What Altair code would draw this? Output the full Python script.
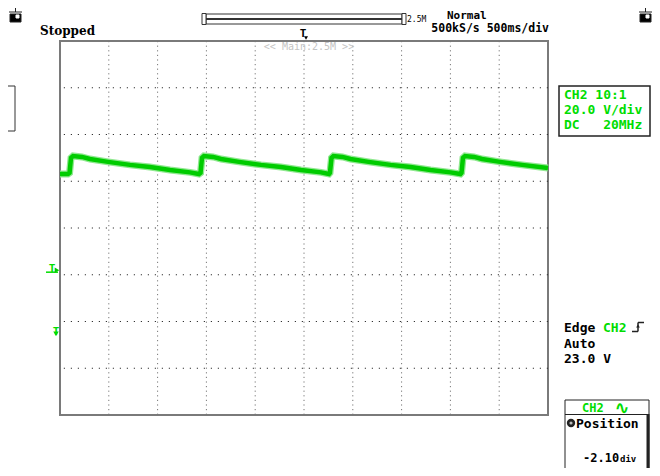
import altair as alt
import pandas as pd

# ---- data (time in s, voltage in V) ----
t_vals = [-2.500, -2.418, -2.402, -2.387, -2.366, -2.275, -2.193, -2.008, -1.783, -1.578, -1.373, -1.168, -1.076,
          -1.060, -1.045, -1.025, -0.932, -0.850, -0.666, -0.441, -0.236, -0.031, 0.174, 0.256,
          0.266, 0.282, 0.302, 0.394, 0.476, 0.661, 0.886, 1.091, 1.296, 1.501, 1.603,
          1.614, 1.629, 1.650, 1.742, 1.824, 2.008, 2.234, 2.500]
v_vals = [65.0, 65.0, 65.5, 71.9, 72.7, 72.3, 71.4, 70.2, 68.9, 68.0, 66.7, 65.7, 65.0,
          65.5, 71.9, 72.7, 72.3, 71.4, 70.2, 68.9, 68.0, 66.7, 65.7, 65.0,
          65.5, 71.9, 72.7, 72.3, 71.4, 70.2, 68.9, 68.0, 66.7, 65.7, 65.0,
          65.5, 71.9, 72.7, 72.3, 71.4, 70.2, 68.9, 67.6]
grid_t = [-2.0, -1.5, -1.0, -0.5, 0.0, 0.5, 1.0, 1.5, 2.0]
grid_v = [101.9, 81.9, 61.9, 41.9, 21.9, 1.9, -18.1]
t_domain = [-2.5, 2.5]
v_domain = [-38.1, 121.9]
trig_level = [23.0]
ground_level = [0.0]
trig_time = [0.0]

GREEN = "#00cc00"
TGREEN = "#00dd00"
MONO = "DejaVu Sans Mono"
OX, OY = 60, 41
NB = "\u00a0"

xs = alt.Scale(domain=t_domain, nice=False, zero=False)
ys = alt.Scale(domain=v_domain, nice=False, zero=False)
X = alt.X("t:Q", scale=xs, axis=None)
Y = alt.Y("v:Q", scale=ys, axis=None)

one = pd.DataFrame({"k": [0]})


def label(text, px, py, size=13, color="black", font=MONO, weight="bold", align="left", baseline="alphabetic"):
    return alt.Chart(one).mark_text(text=text, fontSize=size, color=color, font=font, fontWeight=weight,
                                    align=align, baseline=baseline).encode(
        x=alt.value(px - OX), y=alt.value(py - OY))


def box(x1, y1, x2, y2, stroke="#222", fill="white", sw=1):
    return alt.Chart(one).mark_rect(fill=fill, stroke=stroke, strokeWidth=sw).encode(
        x=alt.value(x1 - OX), x2=alt.value(x2 - OX), y=alt.value(y1 - OY), y2=alt.value(y2 - OY))


def line(x1, y1, x2, y2, color="#222", sw=1):
    return alt.Chart(one).mark_rule(color=color, strokeWidth=sw).encode(
        x=alt.value(x1 - OX), x2=alt.value(x2 - OX), y=alt.value(y1 - OY), y2=alt.value(y2 - OY))


trace = pd.DataFrame({"t": t_vals, "v": v_vals})
halo = alt.Chart(trace).mark_line(color="#90e890", strokeWidth=7).encode(X, Y)
core = alt.Chart(trace).mark_line(color=GREEN, strokeWidth=4.5).encode(X, Y)

vgrid = alt.Chart(pd.DataFrame({"t": grid_t})).mark_rule(
    color="#777", strokeWidth=1, strokeDash=[1.2, 3.4]).encode(x=X)
hgrid = alt.Chart(pd.DataFrame({"v": grid_v})).mark_rule(
    color="#333", strokeWidth=1, strokeDash=[1.2, 5.8]).encode(y=Y)

# trigger level marker (left)
tl = pd.DataFrame({"v": trig_level})
tl_text = alt.Chart(tl).mark_text(text="T", font=MONO, fontSize=11, fontWeight="bold", color=TGREEN,
                                  align="center", baseline="alphabetic").encode(x=alt.value(52 - OX), y=Y)
tl_rule = alt.Chart(tl).mark_rule(color=TGREEN, strokeWidth=1.5).encode(
    x=alt.value(46 - OX), x2=alt.value(58 - OX), y=Y)
tl_tri = alt.Chart(tl).mark_point(shape="triangle-right", filled=True, size=28, color=GREEN, opacity=1,
                                  yOffset=-2).encode(x=alt.value(-3), y=Y)

# ground marker (left)
gl = pd.DataFrame({"v": ground_level})
gl_text = alt.Chart(gl).mark_text(text="T", font=MONO, fontSize=11, fontWeight="bold", color=TGREEN,
                                  align="center", baseline="top").encode(x=alt.value(56 - OX), y=Y)
gl_tri = alt.Chart(gl).mark_point(shape="triangle-down", filled=True, size=30, color=TGREEN, opacity=1,
                                  yOffset=8).encode(x=alt.value(56 - OX), y=Y)

# trigger position marker (top)
tt = pd.DataFrame({"t": trig_time})
tt_text = alt.Chart(tt).mark_text(text="T", font=MONO, fontSize=11, fontWeight="bold", color="black",
                                  align="center", baseline="alphabetic", dx=-1).encode(x=X, y=alt.value(37 - OY))
tt_tri = alt.Chart(tt).mark_point(shape="triangle-down", filled=True, size=16, color="black", opacity=1,
                                  xOffset=2).encode(x=X, y=alt.value(38 - OY))

layers = [
    vgrid, hgrid, halo, core,
    tl_rule, tl_text, tl_tri, gl_text, gl_tri, tt_text, tt_tri,
    # top icons
    line(15.5, 8, 15.5, 12), line(9, 12, 22, 12), box(10, 14, 21, 22, fill="black"), box(16, 15, 19, 18, stroke="white"),
    line(645.5, 8, 645.5, 12), line(639, 12, 652, 12), box(640, 14, 651, 22, fill="black"), box(646, 15, 649, 18, stroke="white"),
    # record length bar
    box(206, 14, 402, 18.5, stroke="#333"), box(206, 19.5, 402, 24, stroke="#333"),
    box(202, 13.5, 206, 24.5, stroke="#333"), box(402, 13.5, 406, 24.5, stroke="#333"),
    label("2.5M", 407, 21.5, size=8, weight="normal"),
    label("Stopped", 40, 35, size=12, font="DejaVu Serif"),
    label("Normal", 447, 18.5, size=11),
    label("500kS/s 500ms/div", 549, 32, size=11.5, align="right"),
    label("<< Main:2.5M >>", 309, 50, size=10, weight="normal", color="#c4c4c4", align="center"),
    # left partial box
    box(0, 86, 15, 131, stroke="#333", fill="transparent"),
    # channel box
    box(559, 86, 650, 136, stroke="#222", sw=1.5),
    label("CH2 10:1", 564, 99, color=TGREEN),
    label("20.0 V/div", 564, 114, color=TGREEN),
    label("DC" + NB * 3 + "20MHz", 564, 129, color=TGREEN),
    # trigger info
    label("Edge", 564, 332),
    label("CH2", 603, 332, color=TGREEN),
    line(632, 331.5, 638, 331.5, sw=1.5), line(638, 331.5, 638, 322.5, sw=1.5), line(638, 322.5, 644, 322.5, sw=1.5),
    alt.Chart(one).mark_point(shape="triangle-up", filled=True, size=14, color="#222", opacity=1).encode(
        x=alt.value(638 - OX), y=alt.value(326 - OY)),
    label("Auto", 564, 348),
    label("23.0 V", 564, 363),
    # bottom position box
    box(565, 400, 649, 472, stroke="#222"),
    line(565, 414.5, 649, 414.5),
    line(648, 414, 648, 472, sw=3),
    label("CH2", 582, 412, size=12, color=TGREEN),
    label("∿", 622, 414, size=18, color=TGREEN, font="DejaVu Sans", align="center"),
    alt.Chart(one).mark_point(shape="circle", filled=True, size=70, color="#222", opacity=1).encode(
        x=alt.value(571 - OX), y=alt.value(423 - OY)),
    alt.Chart(one).mark_point(shape="circle", filled=True, size=10, color="#bbb", opacity=1).encode(
        x=alt.value(571 - OX), y=alt.value(423 - OY)),
    label("Position", 576, 428),
    label("-2.10", 583, 462, size=12),
    label("div", 620, 462, size=9),
]

chart = alt.layer(*layers).properties(
    width=488, height=374,
    padding={"left": 52, "top": 33, "right": 104, "bottom": 53},
    autosize=alt.AutoSizeParams(type="none"),
    background="white",
).configure_view(stroke="#7a7a7a", strokeWidth=2)

chart.save("out.html", embed_options={"renderer": "svg", "actions": False})
